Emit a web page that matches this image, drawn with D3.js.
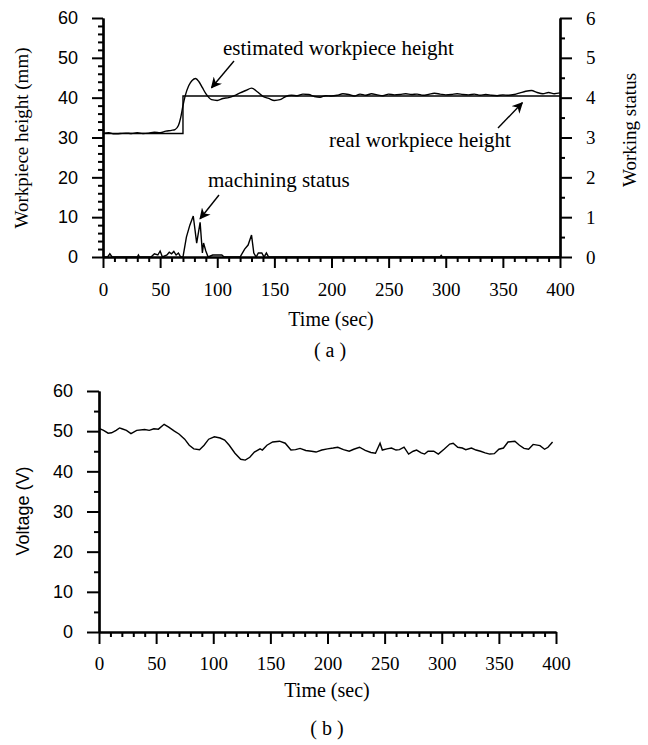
<!DOCTYPE html>
<html>
<head>
<meta charset="utf-8">
<script src="https://cdn.jsdelivr.net/npm/d3@7"></script>
<style>
  body { margin: 0; background: #fff; }
  svg { display: block; }
  .serif { font-family: "Liberation Serif", "Times New Roman", serif; }
  .sans { font-family: "Liberation Sans", Arial, sans-serif; }
</style>
</head>
<body>
<svg id="chart" width="648" height="745"></svg>
<script>
// ---- data ----
var xTicks = [0, 50, 100, 150, 200, 250, 300, 350, 400];
var heightTicks = [0, 10, 20, 30, 40, 50, 60];
var statusTicks = [0, 1, 2, 3, 4, 5, 6];
var voltTicks = [0, 10, 20, 30, 40, 50, 60];

// real workpiece height (step)
var realTime   = [0, 70, 70, 400];
var realHeight = [31, 31, 40.4, 40.4];

// estimated workpiece height
var estTime = [0, 5, 10, 15, 20, 25, 30, 35, 40, 45, 50, 55, 60, 63, 66, 68, 70, 72, 75, 78, 81, 84, 87, 90, 95,
  100, 105, 110, 115, 120, 125, 130, 135, 140, 145, 150, 155, 160, 165, 170, 175, 180, 185, 190, 195,
  200, 205, 210, 215, 220, 225, 230, 235, 240, 245, 250, 255, 260, 265, 270, 275, 280, 285, 290, 295,
  300, 305, 310, 315, 320, 325, 330, 335, 340, 345, 350, 355, 360, 365, 370, 375, 380, 385, 390, 395, 400];
var estHeight = [31, 31.2, 30.9, 31, 31.1, 31, 31.2, 31, 31.1, 31.3, 31.2, 31.6, 31.8, 32, 33, 35, 38, 40.5, 43, 44.3, 44.8, 44, 42.5, 41, 39.5,
  39.3, 39.8, 40, 40.5, 41.2, 41.8, 42.4, 41.5, 40.3, 39.8, 39.3, 39.5, 40.3, 40.6, 40.5, 40.9, 40.8, 40.3, 40.1, 40.5,
  40.4, 40.6, 41, 40.8, 40.4, 40.9, 40.6, 41, 40.7, 40.5, 40.9, 40.7, 40.8, 41, 40.8, 40.9, 40.6, 40.8, 41.1, 40.9,
  40.7, 40.8, 41, 40.8, 40.7, 40.9, 40.6, 40.8, 40.6, 40.5, 40.7, 40.6, 40.8, 41.2, 41.6, 41.8, 41.3, 41, 41.3, 41, 41.2];

// machining (working) status, right axis
var statusTime = [0, 4, 6, 8, 30, 31, 32, 42, 45, 48, 50, 52, 56, 58, 60, 62, 64, 66, 68, 70, 73, 76, 79, 82, 85, 87, 88, 90, 92,
  96, 100, 104, 106, 120, 124, 127, 130, 132, 134, 136, 139, 141, 143, 145, 295, 296, 297, 400];
var statusVal = [0, 0, 0.08, 0, 0, 0.05, 0, 0, 0.08, 0.05, 0.15, 0, 0.05, 0.12, 0.08, 0.14, 0.05, 0.1, 0, 0, 0.5, 0.8, 1.03, 0.35, 0.87, 0.1, 0.35, 0.15, 0,
  0.05, 0.05, 0.05, 0, 0, 0.2, 0.3, 0.55, 0.1, 0, 0.1, 0.1, 0, 0.1, 0, 0, 0.04, 0, 0];

// voltage
var voltTime = [0, 4, 8, 11, 15, 18, 20, 24, 28, 33, 40, 44, 48, 52, 57, 61, 66, 70, 75, 79, 83, 88, 92, 96,
  101, 106, 110, 114, 119, 124, 128, 132, 136, 141, 143, 147, 152, 158, 163, 168, 172, 176, 181, 186, 190, 195,
  200, 205, 209, 214, 219, 223, 228, 233, 238, 242, 246, 248, 252, 256, 260, 263, 267, 271, 275, 278, 282, 285,
  288, 293, 297, 302, 307, 310, 314, 318, 321, 326, 330, 334, 338, 342, 346, 350, 354, 358, 364, 368, 372, 376,
  380, 386, 390, 393, 397];
var voltVal = [50.7, 50.2, 49.5, 49.6, 50.2, 50.8, 50.6, 50.2, 49.4, 50.2, 50.4, 50.2, 50.6, 50.5, 51.7, 51, 50, 49.3, 48, 46.5, 45.6, 45.4, 46.5, 48,
  48.6, 48.3, 47.8, 46.5, 44.5, 43, 42.8, 43.5, 44.8, 45.6, 45.3, 46.5, 47.3, 47.5, 47, 45.3, 45.4, 45.7, 45.2, 45, 44.8, 45.3,
  45.6, 45.8, 46, 45.4, 45, 45.5, 46, 45.2, 44.7, 44.5, 47, 45.3, 45.6, 45.8, 45.3, 45.4, 46, 44.3, 45, 45.3, 44.6, 44.3,
  45, 45, 44.3, 45.5, 46.8, 47, 46, 45.8, 45.4, 45.8, 45.3, 45, 44.6, 44.3, 44.4, 45.5, 45.8, 47.3, 47.5, 46.5, 45.7, 45.5,
  46.7, 46.4, 45.5, 46, 47.3];

var svg = d3.select("#chart");

svg.append("defs").append("marker")
  .attr("id", "arrow")
  .attr("viewBox", "0 0 10 10")
  .attr("refX", 9).attr("refY", 5)
  .attr("markerWidth", 11).attr("markerHeight", 11)
  .attr("markerUnits", "userSpaceOnUse")
  .attr("orient", "auto")
  .append("path")
  .attr("d", "M0,0 L10,5 L0,10 L3,5 Z")
  .attr("fill", "#000");

function range(a, b, s) { return d3.range(a, b + s / 2, s); }

function styleAxis(g) {
  g.selectAll(".domain").attr("stroke", "#000").attr("stroke-width", 2.2);
  g.selectAll(".tick line").attr("stroke", "#000").attr("stroke-width", 2);
}

// ===================== (a) =====================
var xA = d3.scaleLinear().domain([0, 400]).range([103, 560]);
var yA = d3.scaleLinear().domain([0, 60]).range([257, 18]);
var yS = d3.scaleLinear().domain([0, 6]).range([257, 18]);

var line = d3.line();

svg.append("path")
  .attr("d", line(realTime.map(function(t, i) { return [xA(t), yA(realHeight[i])]; })))
  .attr("fill", "none").attr("stroke", "#000").attr("stroke-width", 1.4);

svg.append("path")
  .attr("d", d3.line().curve(d3.curveMonotoneX)(estTime.map(function(t, i) { return [xA(t), yA(estHeight[i])]; })))
  .attr("fill", "none").attr("stroke", "#000").attr("stroke-width", 1.4);

svg.append("path")
  .attr("d", line(statusTime.map(function(t, i) { return [xA(t), yS(statusVal[i])]; })))
  .attr("fill", "none").attr("stroke", "#000").attr("stroke-width", 1.4);

// axes (a)
var gA;
gA = svg.append("g").attr("transform", "translate(0,257)")
  .call(d3.axisBottom(xA).tickValues(range(0, 400, 10).filter(function(d) { return d % 50; })).tickSize(5).tickFormat("").tickSizeOuter(0));
styleAxis(gA);
gA = svg.append("g").attr("transform", "translate(0,257)")
  .call(d3.axisBottom(xA).tickValues(xTicks).tickSize(11).tickPadding(15).tickSizeOuter(0));
styleAxis(gA);
gA.selectAll("text").attr("class", "serif").style("font-size", "19px").attr("fill", "#000");

gA = svg.append("g").attr("transform", "translate(103,0)")
  .call(d3.axisLeft(yA).tickValues(range(0, 60, 2).filter(function(d) { return d % 10; })).tickSize(5).tickFormat("").tickSizeOuter(0));
styleAxis(gA);
gA = svg.append("g").attr("transform", "translate(103,0)")
  .call(d3.axisLeft(yA).tickValues(heightTicks).tickSize(11).tickPadding(14).tickSizeOuter(0));
styleAxis(gA);
gA.selectAll("text").attr("class", "sans").style("font-size", "18px").attr("fill", "#000");

gA = svg.append("g").attr("transform", "translate(560,0)")
  .call(d3.axisRight(yS).tickValues(range(0, 6, 0.5).filter(function(d) { return d % 1; })).tickSize(5).tickFormat("").tickSizeOuter(0));
styleAxis(gA);
gA = svg.append("g").attr("transform", "translate(560,0)")
  .call(d3.axisRight(yS).tickValues(statusTicks).tickFormat(d3.format("d")).tickSize(12).tickPadding(14).tickSizeOuter(0));
styleAxis(gA);
gA.selectAll("text").attr("class", "serif").style("font-size", "19px").attr("fill", "#000");

// titles (a)
svg.append("text").attr("class", "serif").attr("transform", "translate(28,138) rotate(-90)")
  .attr("text-anchor", "middle").style("font-size", "19px").text("Workpiece height (mm)");
svg.append("text").attr("class", "serif").attr("transform", "translate(636,130) rotate(-90)")
  .attr("text-anchor", "middle").style("font-size", "19px").text("Working status");
svg.append("text").attr("class", "serif").attr("x", 331).attr("y", 326)
  .attr("text-anchor", "middle").style("font-size", "20px").text("Time (sec)");
svg.append("text").attr("class", "serif").attr("x", 330).attr("y", 357)
  .attr("text-anchor", "middle").style("font-size", "20px").text("( a )");

// annotations (a)
svg.append("text").attr("class", "serif").attr("x", 223).attr("y", 55)
  .style("font-size", "21px").text("estimated workpiece height");
svg.append("line").attr("x1", 234).attr("y1", 61).attr("x2", xA(95)).attr("y2", yA(42.5))
  .attr("stroke", "#000").attr("stroke-width", 1.4).attr("marker-end", "url(#arrow)");

svg.append("text").attr("class", "serif").attr("x", 329).attr("y", 147)
  .style("font-size", "21px").text("real workpiece height");
svg.append("line").attr("x1", 498).attr("y1", 128).attr("x2", xA(367)).attr("y2", yA(38.7))
  .attr("stroke", "#000").attr("stroke-width", 1.4).attr("marker-end", "url(#arrow)");

svg.append("text").attr("class", "serif").attr("x", 208).attr("y", 187)
  .style("font-size", "21px").text("machining status");
svg.append("line").attr("x1", 219).attr("y1", 195).attr("x2", xA(85)).attr("y2", yS(0.96))
  .attr("stroke", "#000").attr("stroke-width", 1.4).attr("marker-end", "url(#arrow)");

// ===================== (b) =====================
var xB = d3.scaleLinear().domain([0, 400]).range([99, 556]);
var yB = d3.scaleLinear().domain([0, 60]).range([632, 391]);

svg.append("path")
  .attr("d", line(voltTime.map(function(t, i) { return [xB(t), yB(voltVal[i])]; })))
  .attr("fill", "none").attr("stroke", "#000").attr("stroke-width", 1.4);

var gB;
gB = svg.append("g").attr("transform", "translate(0,632)")
  .call(d3.axisBottom(xB).tickValues(range(0, 400, 10).filter(function(d) { return d % 50; })).tickSize(5).tickFormat("").tickSizeOuter(0));
styleAxis(gB);
gB = svg.append("g").attr("transform", "translate(0,632)")
  .call(d3.axisBottom(xB).tickValues(xTicks).tickSize(12).tickPadding(13).tickSizeOuter(0));
styleAxis(gB);
gB.selectAll("text").attr("class", "serif").style("font-size", "19px").attr("fill", "#000");

gB = svg.append("g").attr("transform", "translate(99,0)")
  .call(d3.axisLeft(yB).tickValues(range(0, 60, 5).filter(function(d) { return d % 10; })).tickSize(5).tickFormat("").tickSizeOuter(0));
styleAxis(gB);
gB = svg.append("g").attr("transform", "translate(99,0)")
  .call(d3.axisLeft(yB).tickValues(voltTicks).tickSize(12).tickPadding(14).tickSizeOuter(0));
styleAxis(gB);
gB.selectAll("text").attr("class", "sans").style("font-size", "18px").attr("fill", "#000");

svg.append("text").attr("class", "sans").attr("transform", "translate(29,511) rotate(-90)")
  .attr("text-anchor", "middle").style("font-size", "18px").text("Voltage (V)");
svg.append("text").attr("class", "serif").attr("x", 327).attr("y", 697)
  .attr("text-anchor", "middle").style("font-size", "20px").text("Time (sec)");
svg.append("text").attr("class", "serif").attr("x", 327).attr("y", 735)
  .attr("text-anchor", "middle").style("font-size", "20px").text("( b )");
</script>
</body>
</html>
